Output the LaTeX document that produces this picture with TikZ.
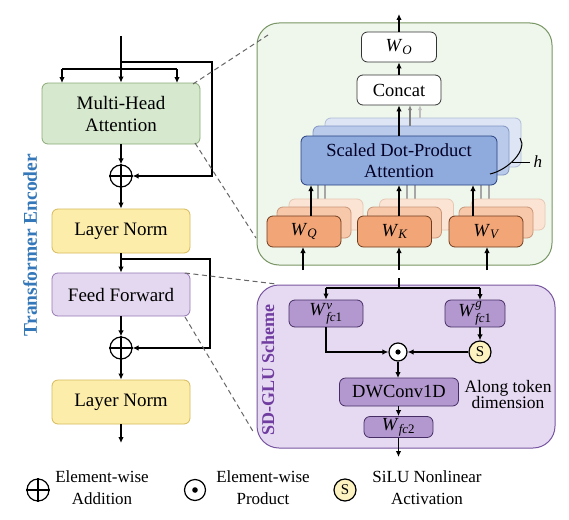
\documentclass[tikz,border=0pt]{standalone}
\usepackage{fontspec}
\setmainfont{Liberation Serif}
\usepackage{amsmath}
\usetikzlibrary{arrows.meta}
\definecolor{mhaF}{RGB}{214,232,206}
\definecolor{mhaB}{RGB}{140,170,120}
\definecolor{lnF}{RGB}{253,237,170}
\definecolor{lnB}{RGB}{214,186,90}
\definecolor{ffF}{RGB}{228,216,240}
\definecolor{ffB}{RGB}{150,120,180}
\definecolor{gF}{RGB}{239,246,235}
\definecolor{gB}{RGB}{120,150,100}
\definecolor{sF}{RGB}{230,218,242}
\definecolor{sB}{RGB}{120,85,160}
\definecolor{pF}{RGB}{178,152,206}
\definecolor{pB}{RGB}{70,45,100}
\definecolor{b1F}{RGB}{143,170,220}
\definecolor{b1B}{RGB}{40,65,130}
\definecolor{b2F}{RGB}{185,202,234}
\definecolor{b2B}{RGB}{130,150,195}
\definecolor{b3F}{RGB}{222,230,245}
\definecolor{b3B}{RGB}{175,188,215}
\definecolor{o1F}{RGB}{242,166,120}
\definecolor{o1B}{RGB}{110,60,30}
\definecolor{o2F}{RGB}{248,200,170}
\definecolor{o2B}{RGB}{200,150,120}
\definecolor{o3F}{RGB}{252,228,212}
\definecolor{o3B}{RGB}{230,200,180}
\definecolor{yF}{RGB}{253,243,192}
\definecolor{tblue}{RGB}{52,120,185}
\definecolor{tpurp}{RGB}{112,60,160}
\newcommand{\Wq}[1]{\textit{W}$_{\textit{#1}}$}
\begin{document}
\begin{tikzpicture}[x=1pt,y=-1pt,
  box/.style={draw, rounded corners=6pt, inner sep=0pt, align=center, line width=0.8pt},
  big/.style={box, font=\fontsize{19}{22}\selectfont},
  mid/.style={box, font=\fontsize{18.5}{21}\selectfont},
  arr/.style={-{Latex[length=6pt,width=5.5pt]}, line width=1.7pt},
  ln/.style={line width=1.7pt},
  garr/.style={-{Latex[length=5pt,width=4pt]}, line width=1.2pt},
  dsh/.style={dashed, dash pattern=on 5pt off 3.5pt, line width=1pt, black!60},
  opcirc/.style={circle, draw, line width=1.2pt, fill=white, inner sep=0pt, minimum size=#1},
  leg/.style={align=center, font=\fontsize{17}{22}\selectfont}
]
\fill[white] (0,0) rectangle (569,519);
\useasboundingbox (0,0) rectangle (569,519);

% ---------------- left column ----------------
\node[rotate=90, text=tblue, font=\bfseries\fontsize{19.5}{22}\selectfont] (te) at (30,245) {Transformer Encoder};

\node[big, fill=mhaF, draw=mhaB, minimum width=158, minimum height=61] (mha) at (121,113.5) {Multi-Head\\Attention};
\node[opcirc=22] (p1) at (121,176) {};
\draw[line width=1.2pt] (p1.north) -- (p1.south) (p1.west) -- (p1.east);
\node[big, fill=lnF, draw=lnB, minimum width=138, minimum height=44] (ln1) at (121,231) {Layer Norm};
\node[big, fill=ffF, draw=ffB, minimum width=138, minimum height=43] (ff) at (121,294.5) {Feed Forward};
\node[opcirc=22] (p2) at (121,348) {};
\draw[line width=1.2pt] (p2.north) -- (p2.south) (p2.west) -- (p2.east);
\node[big, fill=lnF, draw=lnB, minimum width=138, minimum height=44] (ln2) at (121,402) {Layer Norm};

\coordinate (in0) at (121,36);
\coordinate (brl) at (62,69);
\coordinate (brr) at (177,69);
\coordinate (brlb) at (62,83);
\coordinate (brrb) at (177,83);
\coordinate (rs1) at (121,62);
\coordinate (rs1c) at (212,62);
\coordinate (out0) at (121,443);
\draw[arr] (in0) -- (mha.north);
\draw[ln] (brl) -- (brr);
\draw[arr] (brl) -- (brlb);
\draw[arr] (brr) -- (brrb);
\draw[arr] (rs1) -- (rs1c) |- (p1.east);
\draw[arr] (mha.south) -- (p1.north);
\draw[arr] (p1.south) -- (ln1.north);
\coordinate (rs2) at (121,259);
\coordinate (rs2c) at (210,259);
\draw[arr] (ln1.south) -- (ff.north);
\draw[arr] (rs2) -- (rs2c) |- (p2.east);
\draw[arr] (ff.south) -- (p2.north);
\draw[arr] (p2.south) -- (ln2.north);
\draw[arr] (ln2.south) -- (out0);

% ---------------- green attention box ----------------
\node[draw=gB, fill=gF, line width=1pt, rounded corners=22pt, minimum width=295, minimum height=242, inner sep=0pt] (gbox) at (404.5,144) {};

\node[mid, fill=white, draw=black!80, minimum width=75, minimum height=30] (wo) at (399,47) {\Wq{O}};
\node[mid, fill=white, draw=black!80, minimum width=84, minimum height=30] (cc) at (399,90) {Concat};
\coordinate (out1) at (399,14);
\draw[arr, line width=1.3pt] (wo.north) -- (out1);
\draw[arr, line width=1.3pt] (cc.north) -- (wo.south);

% SDPA stack
\node[box, fill=b3F, draw=b3B, minimum width=196, minimum height=49] (sd3) at (423,142.5) {};
\node[box, fill=b2F, draw=b2B, minimum width=196, minimum height=49] (sd2) at (411,150.5) {};
\coordinate (g3a) at (420,118);
\coordinate (g3b) at (420,105);
\coordinate (g2a) at (410,126);
\coordinate (g2b) at (410,105);
\draw[garr, black!25] (g3a) -- (g3b);
\draw[garr, black!50] (g2a) -- (g2b);

% gray lines from W back layers
\foreach \x/\y in {318/207, 325/199, 407/207, 415/199, 481/207, 489/199}{
  \draw[line width=1.1pt, black!35] (\x,\y) -- (\x,180);
}
\node[mid, fill=b1F, draw=b1B, text=black!85!blue, minimum width=196, minimum height=49] (sd1) at (399,160.5) {Scaled Dot-Product\\Attention};
\draw[arr, line width=1.3pt] (sd1.north) -- (cc.south);

% h brace
\coordinate (hc1) at (520,138);
\coordinate (hc2) at (490,174);
\coordinate (hm) at (512,162);
\draw[line width=1pt] (hc1) .. controls (528,150) and (508,170) .. (hc2);
\node[font=\itshape\fontsize{17}{17}\selectfont, anchor=west] (hlab) at (530,162) {h};
\draw[line width=1pt] (hm) -- (hlab.west);

% W stacks
\foreach \n/\cx in {q/304, k/394.5, v/486}{
  \node[box, fill=o3F, draw=o3B, minimum width=74, minimum height=31] (\n3) at (\cx+22,214.5) {};
  \node[box, fill=o2F, draw=o2B, minimum width=74, minimum height=31] (\n2) at (\cx+10,222.5) {};
}
\node[mid, fill=o1F, draw=o1B, minimum width=74, minimum height=31] (wq) at (304,231.5) {\Wq{Q}};
\node[mid, fill=o1F, draw=o1B, minimum width=74, minimum height=31] (wk) at (394.5,231.5) {\Wq{K}};
\node[mid, fill=o1F, draw=o1B, minimum width=74, minimum height=31] (wv) at (486,231.5) {\Wq{V}};
\coordinate (oq) at (311,216); \coordinate (oq2) at (311,185);
\coordinate (ok) at (399,216); \coordinate (ok2) at (399,185);
\coordinate (ov) at (473,216); \coordinate (ov2) at (473,185);
\draw[arr, line width=1.3pt] (oq) -- (oq2);
\draw[arr, line width=1.3pt] (ok) -- (ok2);
\draw[arr, line width=1.3pt] (ov) -- (ov2);

\coordinate (iq) at (303,270); \coordinate (iq2) at (303,247);
\coordinate (ik) at (399,270); \coordinate (ik2) at (399,247);
\coordinate (iv) at (487,270); \coordinate (iv2) at (487,247);
\draw[arr, line width=1.3pt] (iq) -- (iq2);
\draw[arr, line width=1.3pt] (ik) -- (ik2);
\draw[arr, line width=1.3pt] (iv) -- (iv2);

% ---------------- SD-GLU box ----------------
\node[draw=sB, fill=sF, line width=1pt, rounded corners=22pt, minimum width=298, minimum height=163, inner sep=0pt] (sbox) at (406,366.5) {};
\node[rotate=90, text=tpurp, font=\bfseries\fontsize{18}{20}\selectfont] (sdl) at (268,370) {SD-GLU Scheme};

\node[mid, fill=pF, draw=pB, minimum width=74, minimum height=27] (fv) at (326,313.5) {\textit{W}$^{\textit{v}}_{\textit{fc}\text{1}}$};
\node[mid, fill=pF, draw=pB, minimum width=60, minimum height=27] (fg) at (475,313.5) {\textit{W}$^{\textit{g}}_{\textit{fc}\text{1}}$};
\node[opcirc=18] (dot) at (398,352) {};
\fill (dot.center) circle (2.6);
\node[opcirc=22, fill=yF, font=\fontsize{15}{15}\selectfont] (sg) at (480,352) {S};
\node[mid, fill=pF, draw=pB, minimum width=119, minimum height=28] (dw) at (399,392) {DWConv1D};
\node[mid, fill=pF, draw=pB, minimum width=69, minimum height=21] (f2) at (398.5,427) {\textit{W}$_{\textit{fc}\text{2}}$};
\node[align=center, font=\fontsize{17.5}{16}\selectfont] (along) at (508,395) {Along token\\dimension};

\coordinate (si) at (399,278);
\coordinate (sj) at (399,288);
\coordinate (sl) at (326,288);
\coordinate (sr) at (480,288);
\coordinate (srb) at (480,300);
\coordinate (sgt) at (480,327);
\coordinate (dwt) at (398,378);
\coordinate (dwb) at (398.5,406);
\coordinate (so) at (398.5,457);
\draw[ln, line width=1.6pt] (si) -- (sj);
\draw[ln, line width=1.6pt] (sl) -- (sr);
\draw[arr, line width=1.6pt] (sl) -- (fv.north);
\draw[arr, line width=1.6pt] (sr) -- (srb);
\draw[arr, line width=1.6pt] (fv.south) |- (dot.west);
\draw[arr, line width=1.6pt] (sgt) -- (sg.north);
\draw[arr, line width=1.6pt] (sg.west) -- (dot.east);
\draw[arr, line width=1.3pt] (dot.south) -- (dwt);
\draw[arr, line width=1.3pt] (dwb) -- (f2.north);
\draw[arr, line width=1.3pt] (f2.south) -- (so);

% ---------------- zoom dashes ----------------
\coordinate (z1a) at (193,84);
\coordinate (z1b) at (268,35);
\coordinate (z2a) at (195,143);
\coordinate (z2b) at (256,238);
\coordinate (z3a) at (185,273);
\coordinate (z3b) at (276,284);
\coordinate (z4a) at (185,317);
\coordinate (z4b) at (254,433);
\draw[dsh] (z1a) -- (z1b);
\draw[dsh] (z2a) -- (z2b);
\draw[dsh] (z3a) -- (z3b);
\draw[dsh] (z4a) -- (z4b);

% ---------------- legend ----------------
\node[opcirc=22] (lp) at (38,490) {};
\draw[line width=1.2pt] (lp.north) -- (lp.south) (lp.west) -- (lp.east);
\node[leg] (lpt) at (102,488) {Element-wise\\Addition};
\node[opcirc=21] (ld) at (195,490) {};
\fill (ld.center) circle (2.8);
\node[leg] (ldt) at (263,488) {Element-wise\\Product};
\node[opcirc=22, fill=yF, font=\fontsize{15}{15}\selectfont] (ls) at (345,490) {S};
\node[leg] (lst) at (427,488) {SiLU Nonlinear\\Activation};
\end{tikzpicture}
\end{document}
